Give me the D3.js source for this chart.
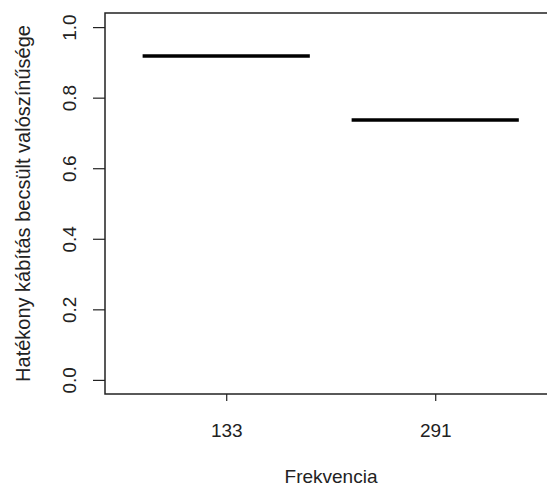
<!DOCTYPE html>
<html>
<head>
<meta charset="utf-8">
<script src="https://cdn.jsdelivr.net/npm/d3@7"></script>
<style>
  html, body { margin: 0; padding: 0; background: #fff; }
  svg { display: block; }
  text { font-family: "Liberation Sans", Arial, sans-serif; fill: #222; }
</style>
</head>
<body>
<svg id="chart" width="547" height="488"></svg>
<script>
const categories = ["133", "291"];
const values = [0.918, 0.737];
const yTicks = [0.0, 0.2, 0.4, 0.6, 0.8, 1.0];
const xLabel = "Frekvencia";
const yLabel = "Hatékony kábítás becsült valószínűsége";

(function () {
const svg = d3.select("#chart");
const plotLeft = 105, plotTop = 13, plotBottom = 394;
const unit = 209;
const x = d3.scaleLinear().domain([0.42, 2.58]).range([plotLeft, plotLeft + 2.16 * unit]);
const y = d3.scaleLinear().domain([-0.04, 1.04]).range([plotBottom, plotTop]);
const ink = "#222";

// frame
svg.append("rect")
  .attr("x", x(0.42)).attr("y", y(1.04))
  .attr("width", x(2.58) - x(0.42)).attr("height", y(-0.04) - y(1.04))
  .attr("fill", "none").attr("stroke", ink).attr("stroke-width", 1.5);

// y axis
const yAxis = d3.axisLeft(y).tickValues(yTicks).tickSize(12).tickFormat(d3.format(".1f"));
const yg = svg.append("g").attr("transform", `translate(${plotLeft},0)`).call(yAxis);
yg.select(".domain").remove();
yg.selectAll(".tick line").attr("stroke", ink).attr("stroke-width", 1.2);
yg.selectAll(".tick text").remove();
yg.selectAll(".tick").append("text")
  .attr("transform", "translate(-29,0) rotate(-90)")
  .attr("text-anchor", "middle")
  .attr("font-size", 19)
  .attr("fill", ink)
  .text(d => d3.format(".1f")(d));

// x axis
const xAxis = d3.axisBottom(x).tickValues([1, 2]).tickSize(7).tickFormat((d, i) => categories[i]);
const xg = svg.append("g").attr("transform", `translate(0,${plotBottom})`).call(xAxis);
xg.select(".domain").remove();
xg.selectAll(".tick line").attr("stroke", ink).attr("stroke-width", 1.2);
xg.selectAll(".tick text").attr("font-size", 19).attr("fill", ink)
  .attr("y", 0).attr("dy", null).attr("transform", "translate(0,43)")
  .style("font-family", "Liberation Sans, Arial, sans-serif");

// estimate lines
svg.append("g").selectAll("line").data(values).join("line")
  .attr("x1", (d, i) => x(i + 1 - 0.4))
  .attr("x2", (d, i) => x(i + 1 + 0.4))
  .attr("y1", d => y(d)).attr("y2", d => y(d))
  .attr("stroke", "#000").attr("stroke-width", 3.5);

// axis titles
svg.append("text")
  .attr("x", (plotLeft + 547) / 2 + 5).attr("y", 483)
  .attr("text-anchor", "middle").attr("font-size", 19).attr("fill", ink)
  .text(xLabel);
svg.append("text")
  .attr("transform", `translate(30,${(plotTop + plotBottom) / 2}) rotate(-90)`)
  .attr("text-anchor", "middle").attr("font-size", 20).attr("fill", ink)
  .text(yLabel);
})();
</script>
</body>
</html>
